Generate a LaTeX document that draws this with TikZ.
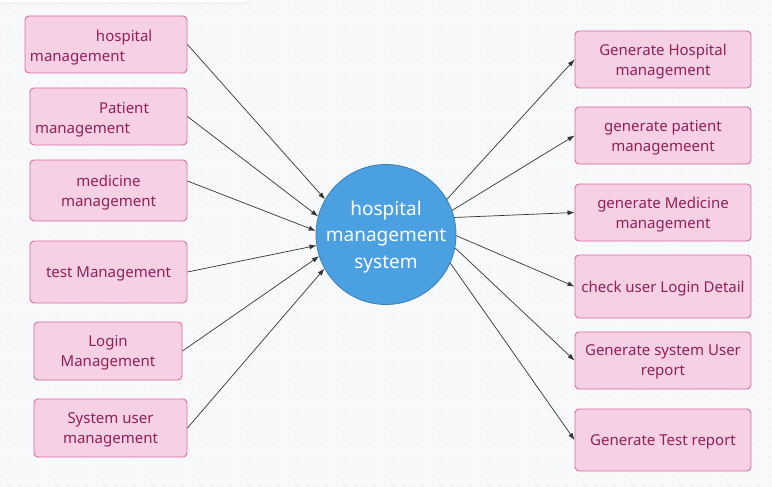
\documentclass[tikz,border=0pt]{standalone}
\usepackage{fontspec}
\setmainfont{Noto Sans}
\usetikzlibrary{arrows.meta}
\definecolor{boxfill}{HTML}{F6D1E6}
\definecolor{boxline}{HTML}{DA6A9E}
\definecolor{boxtext}{HTML}{931F55}
\definecolor{hubfill}{HTML}{4BA0E1}
\definecolor{hubline}{HTML}{3B7DB3}
\definecolor{paper}{HTML}{F8F9FB}
\definecolor{griddot}{HTML}{DCDFE6}

\begin{document}
\begin{tikzpicture}[x=1pt,y=-1pt,->,>={Latex[length=7pt,width=5pt]},line width=0.7pt,draw=black!80,
  every node/.style={font=\fontsize{15}{20}\selectfont},
  modbox/.style={rectangle,rounded corners=4pt,draw=boxline,line width=0.9pt,fill=boxfill,text=boxtext,inner sep=0pt},
  mod/.style={modbox,align=center,text depth=-3pt},
  modleft/.style={modbox,align=left,inner xsep=5pt},
  hub/.style={circle,draw=hubline,line width=0.8pt,fill=hubfill,text=white,align=center,minimum size=140pt,inner sep=0pt,text depth=-3pt,font=\fontsize{19}{26.5}\selectfont}]
  \useasboundingbox (0,0) rectangle (772,487);
  \fill[paper] (0,0) rectangle (772,487);
  \foreach \i in {0,...,80}
    \foreach \j in {0,...,50}
      \fill[griddot] (0.1+\i*9.6,5.5+\j*9.6) circle (0.6pt);
  \draw[-,fill=white,draw=black!10,rounded corners=4pt] (-10,-10) rectangle (249,3);

  % left column
  \node (h1) [modleft,text width=152pt,minimum height=57pt] at (106,44.5) {\rule{0pt}{17.5pt}\hspace*{66pt}hospital\\management};
  \node (h2) [modleft,text width=147pt,minimum height=57pt] at (108.5,116.5) {\rule{0pt}{17.5pt}\hspace*{64pt}Patient\\management};
  \node (h3) [mod,minimum width=157pt,minimum height=61pt] at (108.5,190.5) {medicine\\management};
  \node (h4) [mod,minimum width=157pt,minimum height=62pt] at (108.5,272) {test Management};
  \node (h5) [mod,minimum width=148pt,minimum height=58pt] at (108,351) {Login\\Management};
  \node (h6) [mod,minimum width=153pt,minimum height=58pt] at (110.5,428) {System user\\management};

  % centre
  \node (hms) [hub] at (386,234.5) {hospital\\management\\system};

  % right column
  \node (g1) [mod,minimum width=176pt,minimum height=57pt] at (663,59.5) {Generate Hospital\\management};
  \node (g2) [mod,minimum width=176pt,minimum height=57pt] at (663,135.5) {generate patient\\managemeent};
  \node (g3) [mod,minimum width=176pt,minimum height=57pt] at (663,212.5) {generate Medicine\\management};
  \node (g4) [mod,minimum width=176pt,minimum height=63pt] at (663,286.5) {check user Login Detail};
  \node (g5) [mod,minimum width=176pt,minimum height=57pt] at (663,360.5) {Generate system User\\report};
  \node (g6) [mod,minimum width=176pt,minimum height=62pt] at (663,440) {Generate Test report};

  \draw (h1.east) -- (hms.150);
  \draw (h2.east) -- (hms.165);
  \draw ([yshift=9.5pt]h3.east) -- (hms.177);
  \draw (h4.east) -- (hms.189);
  \draw (h5.east) -- (hms.198);
  \draw (h6.east) -- (hms.209);

  \draw (hms.30) -- (g1.west);
  \draw (hms.20) -- (g2.west);
  \draw (hms.14) -- (g3.west);
  \draw (hms.-1) -- (g4.west);
  \draw (hms.-11) -- (g5.west);
  \draw (hms.-24) -- (g6.west);
\end{tikzpicture}
\end{document}
